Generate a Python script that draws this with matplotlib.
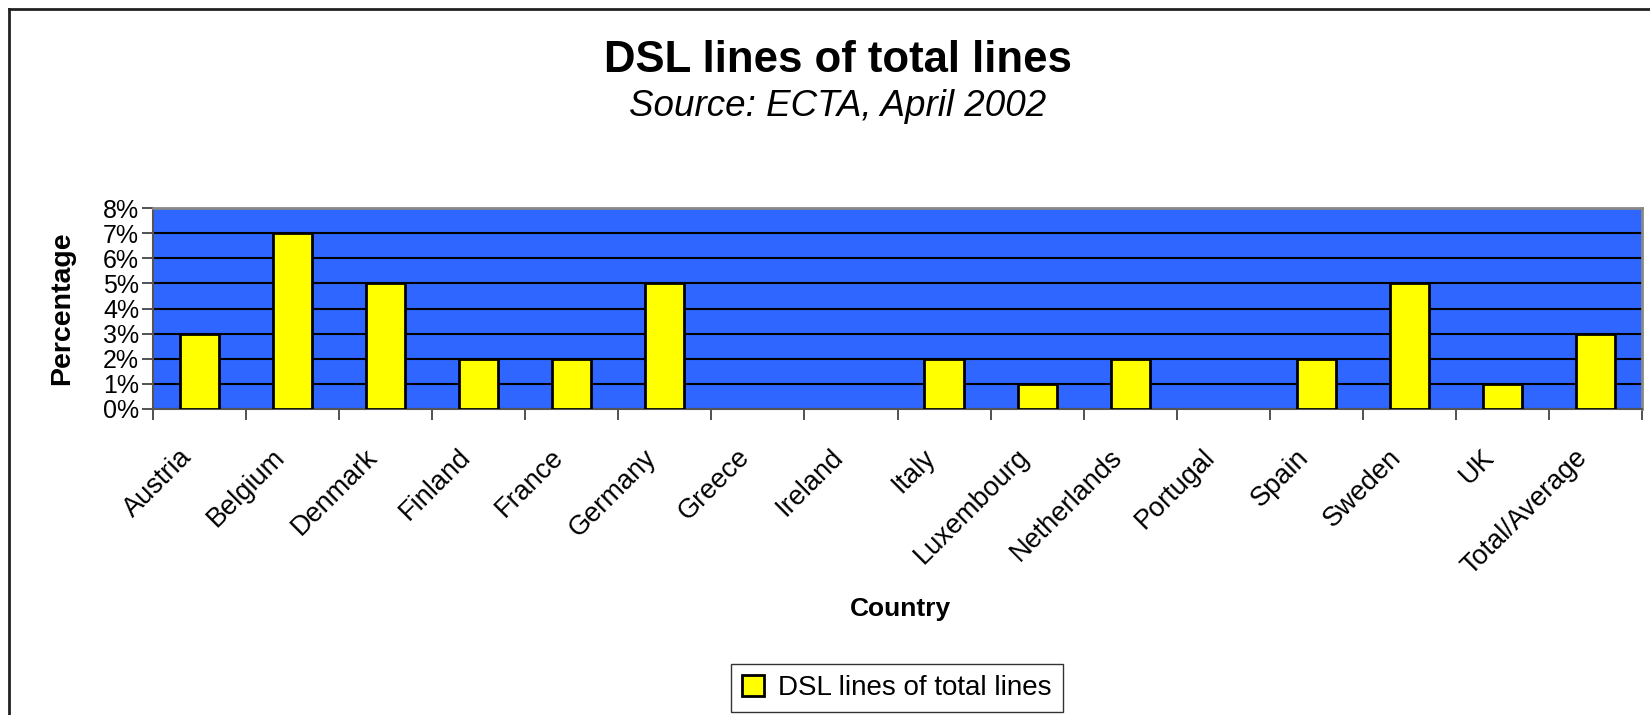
import numpy as np
import matplotlib.pyplot as plt
from matplotlib.lines import Line2D
from matplotlib.ticker import FixedLocator, FuncFormatter
from matplotlib.transforms import ScaledTranslation

plt.rcParams["font.family"] = ["Liberation Sans", "DejaVu Sans"]

countries = ["Austria", "Belgium", "Denmark", "Finland", "France", "Germany",
             "Greece", "Ireland", "Italy", "Luxembourg", "Netherlands",
             "Portugal", "Spain", "Sweden", "UK", "Total/Average"]
dsl_share = [3, 7, 5, 2, 2, 5, 0, 0, 2, 1, 2, 0, 2, 5, 1, 3]

fig = plt.figure(figsize=(16.5, 7.15), dpi=100)
ax = fig.add_axes([153 / 1650, 1 - 409 / 715, (1642 - 153) / 1650, (409 - 208) / 715])

x = np.arange(len(countries))
ax.set_facecolor("#2F66FF")
# zero-height bars are not drawn with an outline
widths = [2 if v > 0 else 0 for v in dsl_share]
ax.bar(x, dsl_share, width=0.42, color="#FFFF00", edgecolor="black",
       linewidth=widths, zorder=3, label="DSL lines of total lines")

ax.set_xlim(-0.5, len(countries) - 0.5)
ax.set_ylim(0, 8)
ax.set_yticks(range(0, 9))
ax.yaxis.set_major_formatter(FuncFormatter(lambda v, p: f"{int(v)}%"))
ax.yaxis.grid(True, color="black", linewidth=1.5, zorder=1)

# ticks between categories, labels at centers
ax.xaxis.set_major_locator(FixedLocator(np.arange(-0.5, len(countries), 1)))
ax.xaxis.set_major_formatter(FuncFormatter(lambda v, p: ""))
ax.set_xticks(x, minor=True)
ax.set_xticklabels(countries, minor=True, rotation=45, ha="right", va="center",
                   rotation_mode="anchor", fontsize=19.5)
ax.tick_params(axis="x", which="minor", length=0, pad=32)
ax.tick_params(axis="x", which="major", length=8, width=1.2, color="#333333")
ax.tick_params(axis="y", length=8, width=1.2, color="#333333", labelsize=18, pad=2)

shift = ScaledTranslation(-12 / 100, 0, fig.dpi_scale_trans)
for lab in ax.get_xticklabels(minor=True):
    lab.set_transform(lab.get_transform() + shift)

for side in ["top", "right"]:
    ax.spines[side].set_color("#888888")
    ax.spines[side].set_linewidth(2)
for side in ["bottom", "left"]:
    ax.spines[side].set_color("#555555")
    ax.spines[side].set_linewidth(1.5)

ax.set_ylabel("Percentage", fontsize=20.5, fontweight="bold", labelpad=20)
fig.text(900 / 1650, 1 - 609 / 715, "Country", fontsize=19, fontweight="bold",
         ha="center", va="center")

fig.text(838 / 1650, 1 - 60 / 715, "DSL lines of total lines", fontsize=31.5,
         fontweight="bold", ha="center", va="center")
fig.text(838 / 1650, 1 - 107 / 715, "Source: ECTA, April 2002", fontsize=26.5,
         style="italic", ha="center", va="center")

fig.legend(loc="center", bbox_to_anchor=(897 / 1650, 1 - 688 / 715), fontsize=20,
           frameon=True, fancybox=False, edgecolor="black", handlelength=0.8,
           handleheight=0.8, borderpad=0.4, handletextpad=0.5)

# figure border (left and top)
fig.add_artist(Line2D([9 / 1650, 9 / 1650], [0, 1 - 9 / 715], color="#222222",
                      linewidth=2, transform=fig.transFigure))
fig.add_artist(Line2D([9 / 1650, 1], [1 - 9 / 715, 1 - 9 / 715], color="#222222",
                      linewidth=2, transform=fig.transFigure))

fig.savefig("out.png", dpi=100)
